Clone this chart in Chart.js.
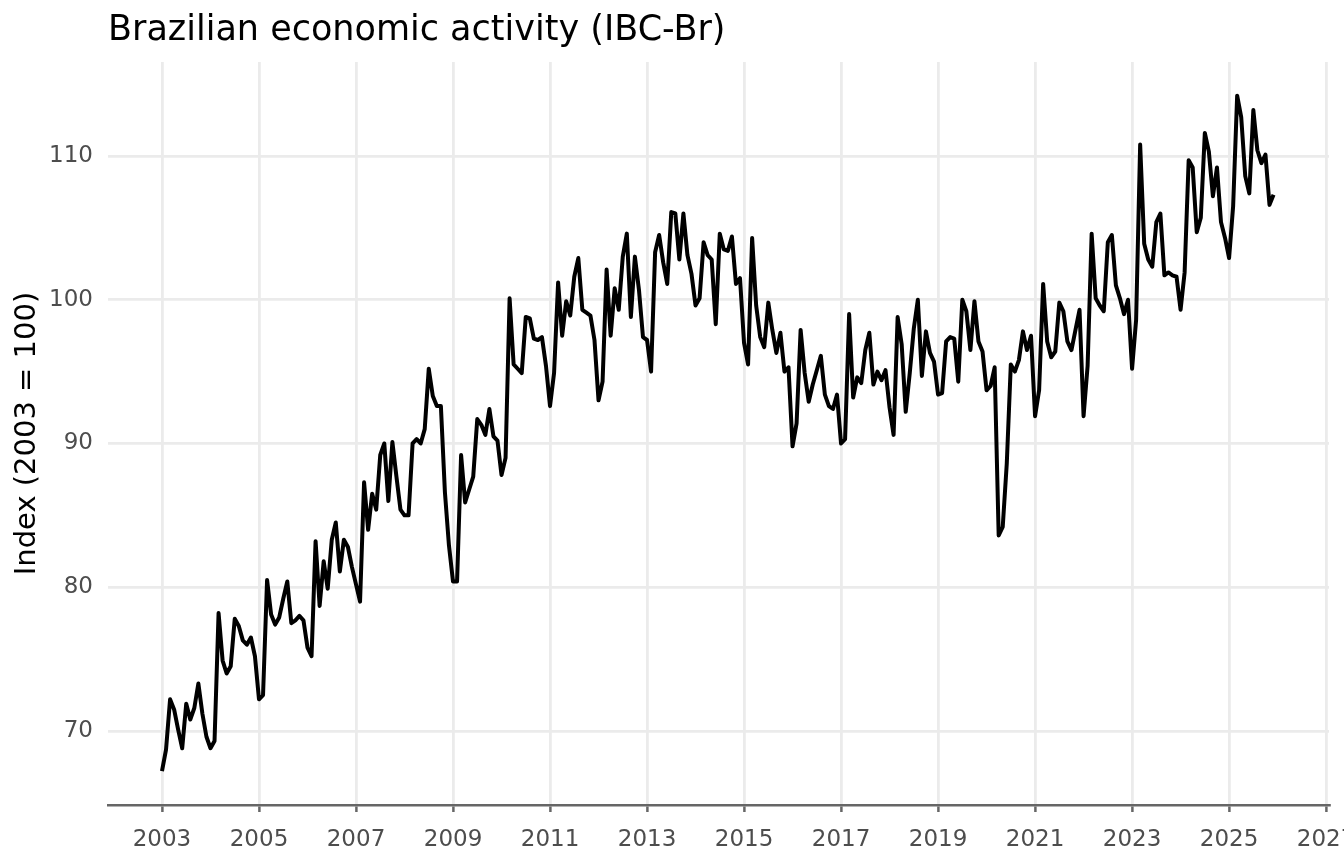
<!DOCTYPE html>
<html><head><meta charset="utf-8">
<script src="https://cdn.jsdelivr.net/npm/chart.js@4"></script>
<style>html,body{margin:0;padding:0;background:#fff;overflow:hidden}#wrap{width:1344px;height:864px;position:relative}</style>
</head><body><div id="wrap"><canvas id="c" width="1344" height="864"></canvas></div>
<script>
// Monthly IBC-Br index values (2003 = 100), Jan..Dec per year
const years = [2003,2004,2005,2006,2007,2008,2009,2010,2011,2012,2013,2014,2015,2016,2017,2018,2019,2020,2021,2022,2023,2024,2025];
const v2003 = [67.2, 68.7, 72.2, 71.5, 70.1, 68.8, 71.9, 70.8, 71.6, 73.3, 71.2, 69.6];
const v2004 = [68.8, 69.3, 78.2, 74.9, 74.0, 74.5, 77.8, 77.3, 76.3, 76.0, 76.5, 75.2];
const v2005 = [72.2, 72.5, 80.5, 78.1, 77.4, 77.9, 79.2, 80.4, 77.5, 77.7, 78.0, 77.7];
const v2006 = [75.8, 75.2, 83.2, 78.7, 81.8, 79.9, 83.3, 84.5, 81.1, 83.3, 82.8, 81.4];
const v2007 = [80.2, 79.0, 87.3, 84.0, 86.5, 85.4, 89.2, 90.0, 86.0, 90.1, 87.7, 85.4];
const v2008 = [85.0, 85.0, 90.0, 90.3, 90.0, 91.0, 95.2, 93.3, 92.6, 92.6, 86.6, 82.9];
const v2009 = [80.4, 80.4, 89.2, 85.9, 86.8, 87.7, 91.7, 91.3, 90.6, 92.4, 90.5, 90.2];
const v2010 = [87.8, 89.0, 100.1, 95.5, 95.2, 94.9, 98.8, 98.7, 97.3, 97.2, 97.4, 95.4];
const v2011 = [92.6, 94.9, 101.2, 97.5, 99.9, 98.9, 101.6, 102.9, 99.3, 99.1, 98.9, 97.2];
const v2012 = [93.0, 94.3, 102.1, 97.5, 100.8, 99.3, 103.0, 104.6, 98.8, 103.0, 100.7, 97.4];
const v2013 = [97.2, 95.0, 103.3, 104.5, 102.6, 101.1, 106.1, 106.0, 102.8, 106.0, 103.1, 101.8];
const v2014 = [99.6, 100.1, 104.0, 103.1, 102.8, 98.3, 104.6, 103.5, 103.4, 104.4, 101.1, 101.5];
const v2015 = [97.0, 95.5, 104.3, 99.6, 97.4, 96.7, 99.8, 97.9, 96.3, 97.7, 95.0, 95.3];
const v2016 = [89.8, 91.4, 97.9, 94.9, 92.9, 94.1, 95.1, 96.1, 93.4, 92.6, 92.4, 93.4];
const v2017 = [90.0, 90.3, 99.0, 93.2, 94.6, 94.2, 96.5, 97.7, 94.1, 95.0, 94.4, 95.1];
const v2018 = [92.5, 90.6, 98.8, 96.9, 92.2, 94.9, 98.0, 100.0, 94.7, 97.8, 96.3, 95.7];
const v2019 = [93.4, 93.5, 97.1, 97.4, 97.3, 94.3, 100.0, 99.2, 96.5, 99.9, 97.1, 96.4];
const v2020 = [93.7, 94.0, 95.3, 83.6, 84.2, 88.6, 95.5, 95.0, 95.8, 97.8, 96.5, 97.5];
const v2021 = [91.9, 93.7, 101.1, 97.1, 96.0, 96.4, 99.8, 99.2, 97.1, 96.5, 97.9, 99.3];
const v2022 = [91.9, 95.4, 104.6, 100.1, 99.6, 99.2, 104.0, 104.5, 101.0, 100.1, 99.0, 100.0];
const v2023 = [95.2, 98.6, 110.8, 103.9, 102.8, 102.3, 105.4, 106.0, 101.7, 101.9, 101.7, 101.6];
const v2024 = [99.3, 101.9, 109.7, 109.2, 104.7, 105.7, 111.6, 110.3, 107.2, 109.2, 105.4, 104.3];
const v2025 = [102.9, 106.5, 114.2, 112.7, 108.6, 107.4, 113.2, 110.4, 109.5, 110.1, 106.6, 107.3];
const xTickValues = [2003,2005,2007,2009,2011,2013,2015,2017,2019,2021,2023,2025,2027];
const xTickLabels = ['2003','2005','2007','2009','2011','2013','2015','2017','2019','2021','2023','2025','2027'];
const yTickValues = [70,80,90,100,110];
const yTickLabels = ['70','80','90','100','110'];

const yearly = [v2003,v2004,v2005,v2006,v2007,v2008,v2009,v2010,v2011,v2012,v2013,v2014,v2015,v2016,v2017,v2018,v2019,v2020,v2021,v2022,v2023,v2024,v2025];
const points = [];
years.forEach((yr, k) => yearly[k].forEach((val, m) => points.push({x: yr + m / 12, y: val})));

const FONT = 'DejaVu Sans';
new Chart(document.getElementById('c'), {
  type: 'line',
  data: { datasets: [{ data: points, borderColor: '#000', borderWidth: 4, pointRadius: 0, tension: 0, fill: false, borderJoinStyle: 'round' }] },
  options: {
    responsive: false, animation: false,
    layout: { padding: { left: 0, right: 15, top: 0, bottom: 0 } },
    plugins: {
      legend: { display: false }, tooltip: { enabled: false },
      title: { display: true, text: 'Brazilian economic activity (IBC-Br)', align: 'start', fullSize: false, color: '#000',
               font: { family: FONT, size: 35, weight: 'normal' }, padding: { top: 10, bottom: 10 } }
    },
    scales: {
      x: {
        type: 'linear', min: 2001.887, max: 2027.06,
        afterBuildTicks: s => { s.ticks = xTickValues.map(v => ({ value: v })); },
        afterFit: s => { s.paddingLeft = 0; s.paddingRight = 0; s.height = 59; },
        grid: { color: '#ebebeb', lineWidth: 2.8, drawTicks: true, tickLength: 7, tickColor: '#666', tickWidth: 2.5 },
        border: { display: true, color: '#666', width: 2.5 },
        ticks: { color: '#4d4d4d', font: { family: FONT, size: 23 }, padding: 14, maxRotation: 0, autoSkip: false,
                 callback: v => { const i = xTickValues.indexOf(v); return i >= 0 ? xTickLabels[i] : ''; } }
      },
      y: {
        min: 64.85, max: 116.54,
        afterBuildTicks: s => { s.ticks = yTickValues.map(v => ({ value: v })); },
        afterFit: s => { s.width = 108; },
        grid: { color: '#ebebeb', lineWidth: 2.8, drawTicks: false },
        border: { display: false },
        ticks: { color: '#4d4d4d', font: { family: FONT, size: 23 }, padding: 15,
                 callback: v => { const i = yTickValues.indexOf(v); return i >= 0 ? yTickLabels[i] : ''; } },
        title: { display: true, text: 'Index (2003 = 100)', color: '#000', font: { family: FONT, size: 29 }, padding: { top: 10, bottom: 0 } }
      }
    }
  }
});
</script></body></html>
